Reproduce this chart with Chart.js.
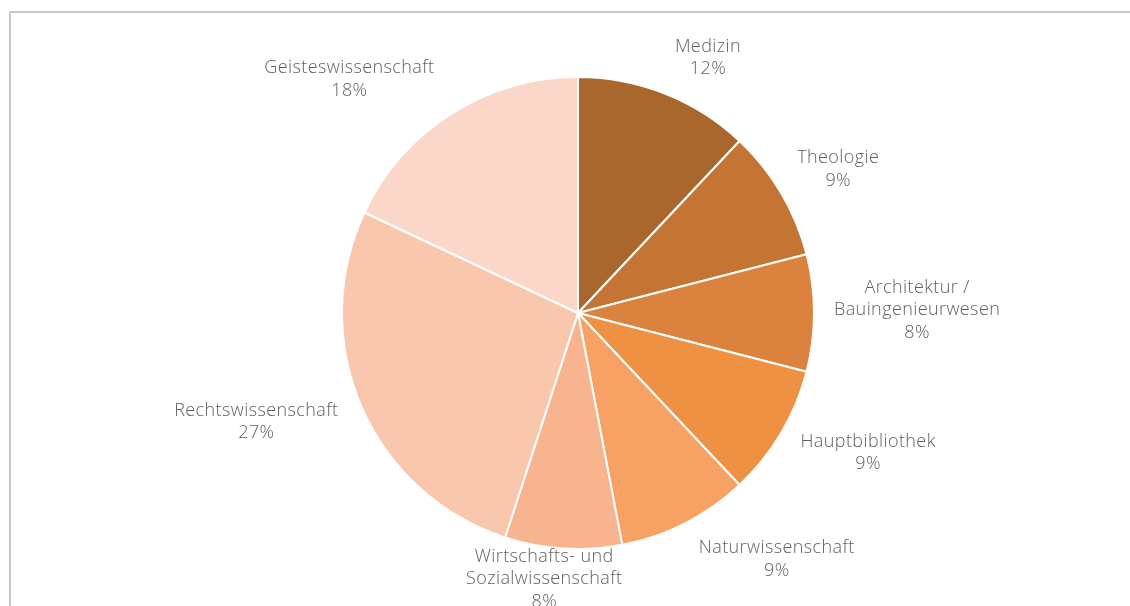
<!DOCTYPE html>
<html>
<head>
<meta charset="utf-8">
<script src="https://cdn.jsdelivr.net/npm/chart.js@4/dist/chart.umd.min.js"></script>
<style>
  html, body { margin: 0; padding: 0; background: #fff; overflow: hidden; }
  .frame {
    position: absolute; left: 9px; top: 11px; width: 1200px; height: 700px;
    border-left: 2px solid #c8c8c8; border-top: 2px solid #c8c8c8;
  }
  #wrap { position: absolute; left: 0; top: 0; width: 1130px; height: 606px; }
</style>
</head>
<body>
<div class="frame"></div>
<div id="wrap"><canvas id="pie"></canvas></div>
<script>
// Anteile der Standorte (in %)
const categories = [
  "Medizin",
  "Theologie",
  ["Architektur /", "Bauingenieurwesen"],
  "Hauptbibliothek",
  "Naturwissenschaft",
  ["Wirtschafts- und", "Sozialwissenschaft"],
  "Rechtswissenschaft",
  "Geisteswissenschaft"
];
const shares = [12, 9, 8, 9, 9, 8, 27, 18];
const sliceColors = [
  "#a9672d", "#c47534", "#db833e", "#ee9142",
  "#f7a164", "#f8b48f", "#f9c7ad", "#fad7c9"
];

// Feinkorrektur der Beschriftungen (px), sonst radial nach außen
const labelNudge = [
  [25, 0], [8, -4], [4, -3], [15, 0],
  [49, 2], [-13, -19], [-15, 0], [-48, -2]
];

const LINE_H = 22.5;
const LABEL_FONT = "300 18px 'Open Sans', sans-serif";

const outsideLabels = {
  id: "outsideLabels",
  afterDatasetsDraw(chart) {
    const { ctx } = chart;
    const meta = chart.getDatasetMeta(0);
    const total = shares.reduce((a, b) => a + b, 0);
    ctx.save();
    ctx.font = LABEL_FONT;
    ctx.letterSpacing = "0.4px";
    ctx.fillStyle = "#5f5f5f";
    ctx.textAlign = "center";
    ctx.textBaseline = "middle";
    meta.data.forEach((arc, i) => {
      const p = arc.getProps(["x", "y", "startAngle", "endAngle", "outerRadius"], true);
      const mid = (p.startAngle + p.endAngle) / 2;
      const dx = Math.cos(mid), dy = Math.sin(mid);
      const name = [].concat(categories[i]);
      const lines = name.concat(Math.round(shares[i] / total * 100) + "%");
      const w = Math.max(...lines.map(l => ctx.measureText(l).width));
      const h = lines.length * LINE_H;
      const r = p.outerRadius + 16;
      const cx = p.x + dx * r + dx * w / 2 + labelNudge[i][0];
      const cy = p.y + dy * r + dy * h / 2 + labelNudge[i][1];
      lines.forEach((l, k) => {
        ctx.fillText(l, cx, cy - h / 2 + LINE_H * (k + 0.5));
      });
    });
    ctx.restore();
  }
};

new Chart(document.getElementById("pie"), {
  type: "pie",
  data: {
    labels: categories,
    datasets: [{
      data: shares,
      backgroundColor: sliceColors,
      borderColor: "#ffffff",
      borderWidth: 2
    }]
  },
  options: {
    responsive: true,
    maintainAspectRatio: false,
    animation: false,
    layout: { padding: { left: 341, right: 315, top: 76, bottom: 56 } },
    plugins: {
      legend: { display: false },
      tooltip: { enabled: false }
    }
  },
  plugins: [outsideLabels]
});
</script>
</body>
</html>
